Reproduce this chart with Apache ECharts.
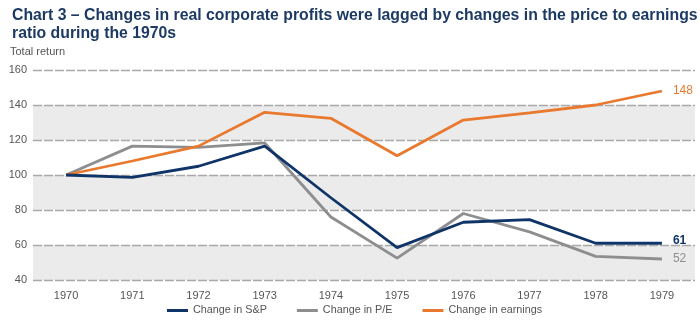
<!DOCTYPE html>
<html><head><meta charset="utf-8">
<script src="https://cdn.jsdelivr.net/npm/echarts@6/dist/echarts.min.js"></script>
<style>html,body{margin:0;padding:0;background:#fff}#c{width:700px;height:323px}</style>
</head><body><div id="c"></div>
<script>
const years = ['1970','1971','1972','1973','1974','1975','1976','1977','1978','1979'];
const spChange = [100, 98.7, 105, 116.5, 87, 58.5, 73, 74.5, 61, 61];
const peChange = [100, 116.5, 115.8, 118.3, 76, 52.5, 78, 67.5, 53.5, 52];
const earningsChange = [100, 108, 116.5, 135.8, 132.4, 111, 131.4, 135.5, 140, 148];
const yTicks = [40, 60, 80, 100, 120, 140, 160];

const navy = '#0f3467', grey = '#8d8e90', orange = '#e8792e';
const chart = echarts.init(document.getElementById('c'), null, {renderer: 'canvas'});
function endLabel(color, bold, dy) {
  return {show: true, formatter: p => String(Math.round(p.value)),
    distance: 11, offset: [0, dy], color: color, fontSize: 12, fontWeight: bold ? 'bold' : 'normal', fontFamily: 'Liberation Sans'};
}
chart.setOption({
  animation: false,
  textStyle: {fontFamily: 'Liberation Sans'},
  title: {text: 'Chart 3 \u2013 Changes in real corporate profits were lagged by changes in the price to earnings\nratio during the 1970s',
    left: 7, top: 2, textStyle: {color: '#1c3a64', fontSize: 15.8, fontWeight: 'bold', lineHeight: 18, fontFamily: 'Liberation Sans'}},
  graphic: [{type: 'text', left: 10, top: 46, style: {text: 'Total return', fill: '#555', font: '11px "Liberation Sans"'}}],
  grid: {left: 33, right: 5, top: 70, bottom: 43},
  legend: {top: 305, left: 167, padding: 0, itemWidth: 21, itemHeight: 3, itemGap: 30, icon: 'rect',
    textStyle: {color: '#555', fontSize: 10.8, fontFamily: 'Liberation Sans'},
    data: ['Change in S&P', 'Change in P/E', 'Change in earnings']},
  xAxis: {type: 'category', data: years, boundaryGap: true,
    axisLine: {show: false}, axisTick: {show: false},
    axisLabel: {color: '#555', fontSize: 11, margin: 10}},
  yAxis: {type: 'value', min: 40, max: 160, interval: 20,
    axisLine: {show: false}, axisTick: {show: false},
    axisLabel: {color: '#555', fontSize: 11, margin: 6, formatter: v => yTicks.includes(v) ? String(v) : ''},
    splitLine: {lineStyle: {color: '#a9a9a9', width: 1.3, type: [9, 2]}},
    splitArea: {show: true, areaStyle: {color: ['#ebebeb', '#ffffff']}}},
  series: [
    {name: 'Change in S&P', type: 'line', data: spChange, symbol: 'none', lineStyle: {width: 2.8, color: navy}, itemStyle: {color: navy}, endLabel: endLabel(navy, true, -3), z: 5},
    {name: 'Change in P/E', type: 'line', data: peChange, symbol: 'none', lineStyle: {width: 2.8, color: grey}, itemStyle: {color: grey}, endLabel: endLabel(grey, false, 0), z: 3},
    {name: 'Change in earnings', type: 'line', data: earningsChange, symbol: 'none', lineStyle: {width: 2.8, color: orange}, itemStyle: {color: orange}, endLabel: endLabel(orange, false, 0), z: 4}
  ]
});
</script></body></html>
